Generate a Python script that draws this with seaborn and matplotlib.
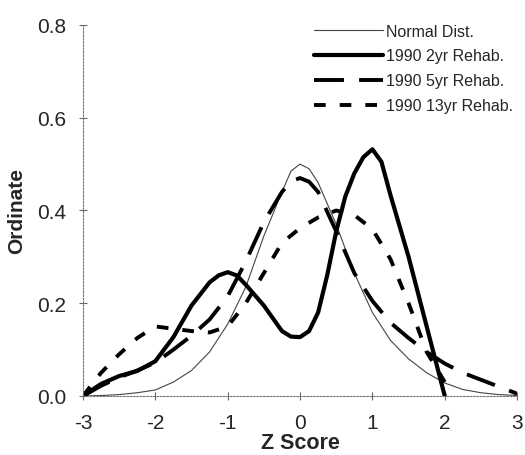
import matplotlib
matplotlib.use("Agg")
import matplotlib.pyplot as plt
import seaborn as sns
import numpy as np
import pandas as pd

sns.set_theme(style="white")
plt.rcParams['font.family'] = ['Liberation Sans', 'DejaVu Sans']

# Normal distribution
normal_z = [-3.0, -2.75, -2.5, -2.25, -2.0, -1.75, -1.5, -1.25, -1.0, -0.75, -0.5, -0.25, -0.125,
            0.0, 0.125, 0.25, 0.5, 0.75, 1.0, 1.25, 1.5, 1.75, 2.0, 2.25, 2.5, 2.75, 3.0]
normal_v = [0.0, 0.001, 0.003, 0.007, 0.013, 0.03, 0.055, 0.095, 0.155, 0.235, 0.345, 0.44, 0.485,
            0.5, 0.49, 0.46, 0.37, 0.265, 0.18, 0.12, 0.08, 0.05, 0.028, 0.014, 0.007, 0.003, 0.001]

# 1990 2yr Rehab.
rehab2_z = [-3.0, -2.75, -2.5, -2.25, -2.0, -1.75, -1.5, -1.25, -1.125, -1.0, -0.875, -0.75, -0.5,
            -0.25, -0.125, 0.0, 0.125, 0.25, 0.375, 0.5, 0.625, 0.75, 0.875, 1.0, 1.125, 1.25,
            1.5, 1.75, 2.0]
rehab2_v = [0.0, 0.026, 0.043, 0.054, 0.075, 0.127, 0.195, 0.245, 0.26, 0.267, 0.26, 0.24, 0.195,
            0.14, 0.128, 0.127, 0.14, 0.18, 0.26, 0.355, 0.43, 0.48, 0.515, 0.532, 0.505, 0.433,
            0.3, 0.15, 0.0]

# 1990 5yr Rehab.
rehab5_z = [-3.0, -2.75, -2.5, -2.25, -2.0, -1.75, -1.5, -1.25, -1.0, -0.75, -0.5, -0.25, -0.125,
            0.0, 0.125, 0.25, 0.5, 0.75, 1.0, 1.25, 1.5, 1.75, 2.0, 2.25, 2.5, 2.75, 3.0]
rehab5_v = [0.0, 0.022, 0.04, 0.055, 0.072, 0.1, 0.13, 0.165, 0.215, 0.29, 0.375, 0.44, 0.463,
            0.47, 0.462, 0.44, 0.355, 0.265, 0.205, 0.158, 0.125, 0.095, 0.07, 0.05, 0.035, 0.02, 0.005]

# 1990 13yr Rehab.
rehab13_z = [-3.0, -2.75, -2.5, -2.25, -2.0, -1.75, -1.5, -1.25, -1.0, -0.75, -0.5, -0.25,
             0.0, 0.25, 0.5, 0.75, 1.0, 1.25, 1.5, 1.75, 2.0]
rehab13_v = [0.0, 0.05, 0.09, 0.125, 0.15, 0.145, 0.14, 0.137, 0.15, 0.2, 0.265, 0.33,
             0.362, 0.385, 0.4, 0.39, 0.36, 0.295, 0.2, 0.095, 0.03]

labels = ["Normal Dist.", "1990 2yr Rehab.", "1990 5yr Rehab.", "1990 13yr Rehab."]
x_ticks = [-3, -2, -1, 0, 1, 2, 3]
y_ticks = [0.0, 0.2, 0.4, 0.6, 0.8]

fig = plt.figure(figsize=(5.25, 4.56), dpi=100)
ax = fig.add_axes([0.158, 0.1294, 0.827, 0.8136])

styles = [
    dict(color="#444444", lw=0.8, ls="-"),
    dict(color="black", lw=3.0, ls="-"),
    dict(color="black", lw=2.8, ls=(0, (7.7, 3.9))),
    dict(color="black", lw=2.8, ls=(0, (3.0, 3.6))),
]
series = [(normal_z, normal_v), (rehab2_z, rehab2_v), (rehab5_z, rehab5_v), (rehab13_z, rehab13_v)]
for (zz, vv), lab, st in zip(series, labels, styles):
    df = pd.DataFrame({"z": zz, "v": vv})
    sns.lineplot(data=df, x="z", y="v", ax=ax, label=lab, color=st["color"],
                 linewidth=st["lw"], linestyle=st["ls"], sort=False)

ax.set_xlim(-3, 3)
ax.set_ylim(0, 0.8)
ax.set_xticks(x_ticks)
ax.set_xticklabels([str(t) for t in x_ticks])
ax.set_yticks(y_ticks)
ax.set_yticklabels([f"{t:.1f}" for t in y_ticks])
ax.tick_params(axis='both', direction='inout', length=6, width=0.8, color='#666666',
               labelsize=15, pad=9, bottom=True, left=True)
ax.set_xlabel("Z Score", fontsize=15.5, fontweight='bold', labelpad=0)
ax.set_ylabel("Ordinate", fontsize=15, fontweight='bold', labelpad=8)

for s in ['top', 'right']:
    ax.spines[s].set_visible(False)
for s in ['left', 'bottom']:
    ax.spines[s].set_linestyle((0, (1.5, 1.5)))
    ax.spines[s].set_color('#777777')
    ax.spines[s].set_linewidth(0.8)

leg = ax.legend(loc='upper right', bbox_to_anchor=(0.991, 1.004), frameon=False,
                fontsize=11.5, handlelength=4.3, handletextpad=0.2, labelspacing=0.62,
                borderaxespad=0.0, borderpad=0.0)

fig.savefig("out.png", dpi=100, facecolor='white')
